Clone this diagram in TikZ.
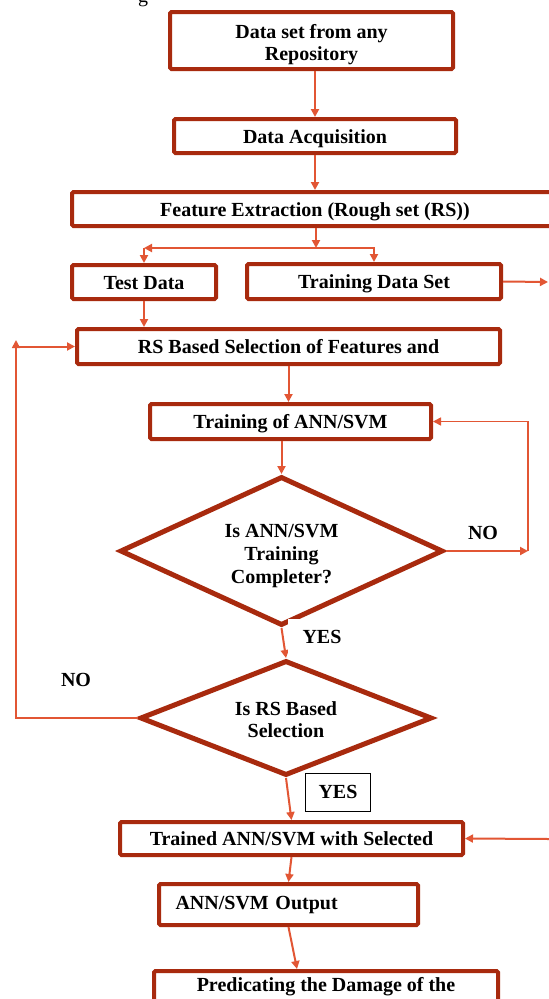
\documentclass[tikz,border=0pt]{standalone}
\usepackage{fontspec}
\setmainfont{Liberation Serif}
\usetikzlibrary{shapes.geometric,arrows.meta,calc}
\definecolor{boxc}{RGB}{168,42,14}
\definecolor{arrc}{RGB}{226,86,52}
\tikzset{
 txt/.style={font=\fontsize{20}{22}\selectfont\bfseries, text=black},
 pbox/.style={txt, draw=boxc, line width=4pt, rounded corners=1.5pt, inner sep=2pt, align=center, fill=white},
 onel/.style={text height=14pt, text depth=0pt},
 dbox/.style={txt, draw=boxc, line width=5pt, shape=diamond, inner sep=0pt, align=center, fill=white},
 tip/.style={-{Triangle[length=8pt,width=8pt]}},
 arr/.style={draw=arrc, line width=2pt, tip},
 loopl/.style={draw=arrc, line width=1.6pt},
 lbl/.style={txt},
}
\begin{document}
\begin{tikzpicture}[x=1pt,y=-1pt]
\useasboundingbox (0,0) rectangle (549,999);
\clip (0,0) rectangle (549,999);
\fill[white] (0,0) rectangle (549,999);
\node[font=\fontsize{20}{22}\selectfont, anchor=base, inner sep=0pt] (frag) at (143,2) {g};
% boxes
\node[pbox, minimum width=283pt, minimum height=57pt] (b1) at (311.5,40.5) {\rule{0pt}{22pt}Data set from any\\Repository};
\node[pbox, onel, minimum width=282pt, minimum height=34pt] (b2) at (315,136) {Data Acquisition};
\node[pbox, onel, minimum width=486pt, minimum height=34pt] (b3) at (315,209) {Feature Extraction (Rough set (RS))};
\node[pbox, onel, minimum width=144pt, minimum height=34pt] (test) at (144,282) {Test Data};
\node[pbox, onel, minimum width=254pt, minimum height=35pt] (train) at (374,281.5) {Training Data Set};
\node[pbox, onel, minimum width=423pt, minimum height=35pt] (rs) at (288.5,346.5) {RS Based Selection of Features and};
\node[pbox, onel, minimum width=281pt, minimum height=35pt] (tann) at (290.5,421.5) {Training of ANN/SVM};
\node[dbox, font=\fontsize{20}{23}\selectfont\bfseries, minimum width=323pt, minimum height=149pt, aspect=2.17] (d1) at (281.5,551) {\rule{0pt}{23pt}Is ANN/SVM\\Training\\Completer?};
\node[dbox, minimum width=292pt, minimum height=115pt, aspect=2.5] (d2) at (286,718) {\rule{0pt}{18pt}Is RS Based\\Selection};
\node[pbox, onel, minimum width=343pt, minimum height=33pt] (trained) at (291.5,838.5) {Trained ANN/SVM with Selected};
\node[pbox, minimum width=259pt, minimum height=41pt, text width=226pt, align=left, inner xsep=16pt] (out) at (288.5,904.5) {ANN/SVM Output};
\node[pbox, anchor=north west, minimum width=344pt, align=left, inner xsep=18pt, inner ysep=6pt] (pred) at (152,969) {Predicating the Damage of the\\\mbox{}};
% connectors
\coordinate (split) at (316,248);
\draw[arr] (b1.south -| b2.north) -- (b2.north);
\draw[arr] (b2.south) -- (b2.south |- b3.north);
\draw[arr] (b3.south -| split) -- (split);
\draw[arr] (split) -- (test.north |- split);
\draw[arr] (test.north |- split) -- (test.north);
\draw[arr] (split) -| (train.north);
\coordinate (trout) at (548,282);
\draw[arr] (train.east) -- (trout);
\draw[arr] (test.south) -- (test.south |- rs.north);
\draw[arr] (rs.south) -- (rs.south |- tann.north);
\draw[arr] (tann.south -| d1.north) -- (d1.north);
\coordinate (r1) at (528,551);
\draw[arr] (d1.east) -- (r1);
\draw[loopl, tip] (r1) |- (tann.east);
\node[lbl] (no1) at (483,533) {NO};
\draw[arr] (d1.south) -- (d2.north);
\node[txt, fill=white, minimum width=68pt, minimum height=36pt, inner sep=0pt] (yes1) at (322,637) {YES};
\coordinate (l1) at (16,718);
\coordinate (l2) at (16,340);
\draw[loopl, tip] (d2.west) -- (l1) -- (l2);
\draw[arr] (l2 |- rs.west) -- (rs.west);
\node[lbl] (no2) at (76,680) {NO};
\draw[arr] (d2.south) -- (trained.north);
\node[txt, draw=black, line width=0.8pt, fill=white, minimum width=65pt, minimum height=38pt, inner sep=0pt] (yes2) at (338,792) {YES};
\coordinate (trin) at (549,839);
\draw[arr] (trin) -- (trained.east);
\draw[arr] (trained.south) -- (out.north);
\draw[arr] (out.south) -- ($(pred.north)+(-29,0)$);
\end{tikzpicture}
\end{document}
